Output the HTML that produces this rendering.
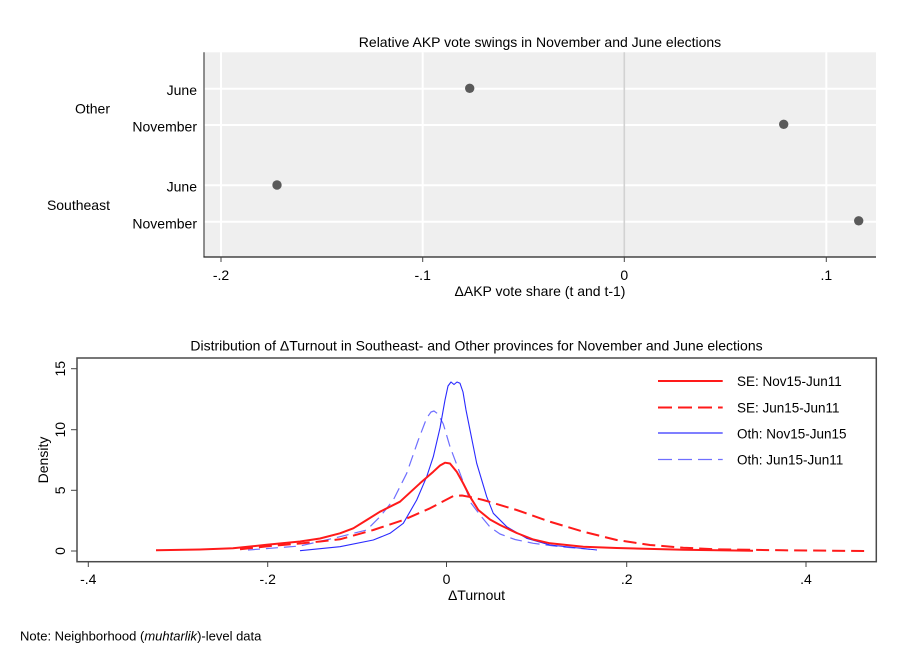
<!DOCTYPE html>
<html><head><meta charset="utf-8"><style>
html,body{margin:0;padding:0;background:#fff;}
svg{display:block;}
text{font-family:"Liberation Sans",Arial,sans-serif;fill:#000;}
</style></head><body>
<svg width="909" height="661" viewBox="0 0 909 661" xmlns="http://www.w3.org/2000/svg">
<rect x="0" y="0" width="909" height="661" fill="#fff"/>

<!-- ===== Top panel ===== -->
<text x="540" y="47" font-size="14" text-anchor="middle">Relative AKP vote swings in November and June elections</text>
<rect x="204" y="52.3" width="672" height="204.7" fill="#efefef"/>
<g stroke="#ffffff" stroke-width="2">
<line x1="221" y1="52.3" x2="221" y2="257"/>
<line x1="422.7" y1="52.3" x2="422.7" y2="257"/>
<line x1="826.3" y1="52.3" x2="826.3" y2="257"/>
<line x1="204" y1="88.7" x2="876" y2="88.7"/>
<line x1="204" y1="125" x2="876" y2="125"/>
<line x1="204" y1="185.2" x2="876" y2="185.2"/>
<line x1="204" y1="221.7" x2="876" y2="221.7"/>
</g>
<line x1="624.3" y1="52.3" x2="624.3" y2="257" stroke="#d2d2d2" stroke-width="1.6"/>
<line x1="204" y1="52.3" x2="204" y2="257.5" stroke="#555" stroke-width="1.3"/>
<line x1="203.5" y1="257" x2="876" y2="257" stroke="#222" stroke-width="1.2"/>
<g stroke="#444" stroke-width="1">
<line x1="221" y1="257" x2="221" y2="262"/>
<line x1="422.7" y1="257" x2="422.7" y2="262"/>
<line x1="624.3" y1="257" x2="624.3" y2="262"/>
<line x1="826.3" y1="257" x2="826.3" y2="262"/>
</g>
<g font-size="14" text-anchor="middle">
<text x="221" y="280">-.2</text>
<text x="422.7" y="280">-.1</text>
<text x="624.3" y="280">0</text>
<text x="826.3" y="280">.1</text>
<text x="540" y="296">ΔAKP vote share (t and t-1)</text>
</g>
<g font-size="14" text-anchor="end">
<text x="197" y="95">June</text>
<text x="197" y="131.7">November</text>
<text x="197" y="191.7">June</text>
<text x="197" y="228.3">November</text>
<text x="110" y="113.3">Other</text>
<text x="110" y="210">Southeast</text>
</g>
<g fill="#5a5a5a">
<circle cx="469.7" cy="88.3" r="4.7"/>
<circle cx="783.7" cy="124.3" r="4.7"/>
<circle cx="277" cy="185" r="4.7"/>
<circle cx="858.7" cy="220.8" r="4.7"/>
</g>

<!-- ===== Bottom panel ===== -->
<text x="476.5" y="350.5" font-size="14" text-anchor="middle">Distribution of ΔTurnout in Southeast- and Other provinces for November and June elections</text>
<rect x="77" y="358" width="799.3" height="203.7" fill="none" stroke="#4a4a4a" stroke-width="1.5"/>
<g stroke="#444" stroke-width="1">
<line x1="88.3" y1="562" x2="88.3" y2="567"/>
<line x1="267.7" y1="562" x2="267.7" y2="567"/>
<line x1="446.5" y1="562" x2="446.5" y2="567"/>
<line x1="626.7" y1="562" x2="626.7" y2="567"/>
<line x1="806" y1="562" x2="806" y2="567"/>
<line x1="71" y1="368.7" x2="77" y2="368.7"/>
<line x1="71" y1="429.7" x2="77" y2="429.7"/>
<line x1="71" y1="490.3" x2="77" y2="490.3"/>
<line x1="71" y1="551" x2="77" y2="551"/>
</g>
<g font-size="14" text-anchor="middle">
<text x="88.3" y="584">-.4</text>
<text x="267.7" y="584">-.2</text>
<text x="446.5" y="584">0</text>
<text x="626.7" y="584">.2</text>
<text x="806" y="584">.4</text>
<text x="476.5" y="600">ΔTurnout</text>
<text transform="translate(65,368.7) rotate(-90)">15</text>
<text transform="translate(65,429.7) rotate(-90)">10</text>
<text transform="translate(65,490.3) rotate(-90)">5</text>
<text transform="translate(65,551) rotate(-90)">0</text>
<text transform="translate(48,460) rotate(-90)">Density</text>
</g>

<g fill="none" stroke-linejoin="round" stroke-linecap="butt">
<polyline stroke="#6f6fff" stroke-width="1.2" stroke-dasharray="12,6" points="248,550 300,546 340,536.7 366.7,530 380,516.7 393.3,500 406.7,473.3 418.3,440 426.7,418 431,412 434,411 438,414 443.3,424 450,446.7 460,473.3 471,503 480,515 490,527 500,534 515,539.5 533.3,543.3 560,546.7 590,549.3"/>
<polyline stroke="#2a2aff" stroke-width="1.1" points="300,550.7 340,546.7 373.3,540 390,533.3 403.3,523.3 416.7,500 426.7,476.7 433.3,456.7 440,428 445,400 448,386 451,382 454,384.5 457,382 460,383.3 463,392 466,410 470,430 476.7,463.3 486.7,496.7 493.3,513.3 506.7,526.7 526.7,538.3 550,545 597,550"/>
<polyline stroke="#ff1a1a" stroke-width="2" stroke-dasharray="13,6" points="240,549.3 270,546 300,543.5 320,541.5 340,539.3 373.3,530 403.3,520 430,508.3 453.3,496 462,495.5 471.7,497.3 483.3,500 516.7,510 550,521.7 583.3,531.7 616.7,540 650,545 683.3,547.7 716.7,549.3 783.3,550.3 865,551"/>
<polyline stroke="#ff1a1a" stroke-width="2" points="156,550.3 200,549.5 233,548.3 266.7,544.8 300,541.5 320,538.5 340,533.3 353.3,528.3 366.7,520 380,511.7 400,501.7 420,483.3 433.3,471.7 440,465.5 445,462.7 450,463.5 456.7,471.7 463,483 470,496.7 478.3,510 490,519.5 500,525 516.7,533 533.3,539.5 550,543.3 583.3,546.7 616.7,548 683.3,549.7 753,550.7"/>
</g>

<g fill="none">
<line x1="658" y1="381" x2="722.7" y2="381" stroke="#ff1a1a" stroke-width="2"/>
<line x1="658" y1="407.5" x2="722.7" y2="407.5" stroke="#ff1a1a" stroke-width="2" stroke-dasharray="14,6"/>
<line x1="658" y1="433" x2="722.7" y2="433" stroke="#3333ff" stroke-width="1.2"/>
<line x1="658" y1="459.5" x2="722.7" y2="459.5" stroke="#6f6fff" stroke-width="1.3" stroke-dasharray="14,6"/>
</g>
<g font-size="13.5">
<text x="737" y="386">SE: Nov15-Jun11</text>
<text x="737" y="412.5">SE: Jun15-Jun11</text>
<text x="737" y="438.5">Oth: Nov15-Jun15</text>
<text x="737" y="464.5">Oth: Jun15-Jun11</text>
</g>

<text x="20" y="640.5" font-size="13">Note: Neighborhood (<tspan font-style="italic">muhtarlik</tspan>)-level data</text>
</svg>
</body></html>
